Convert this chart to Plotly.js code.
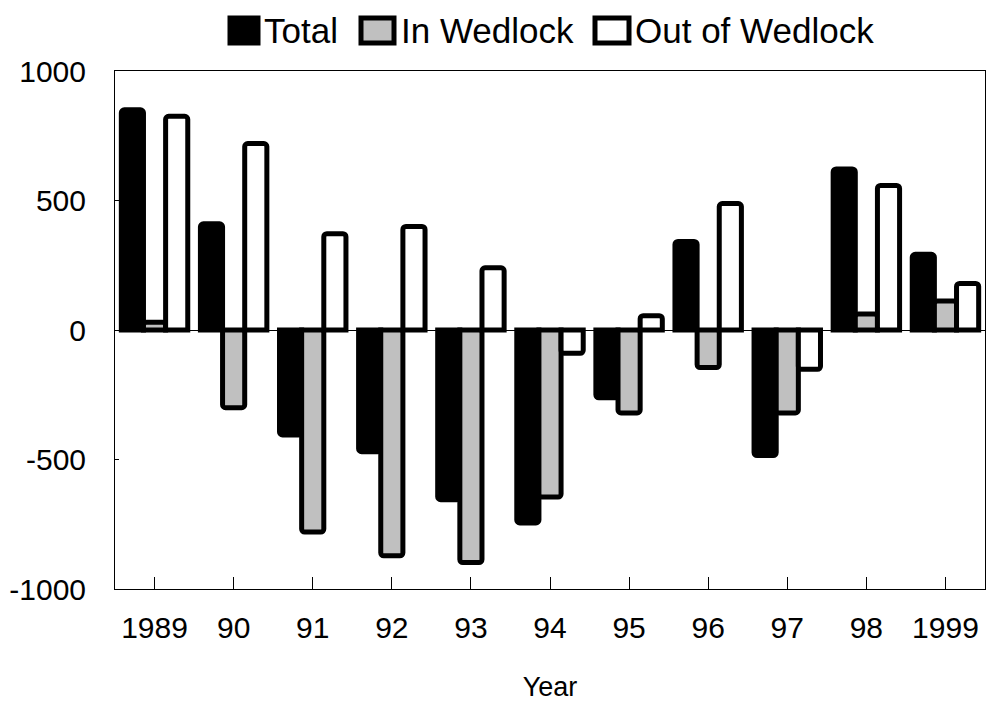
<!DOCTYPE html>
<html>
<head>
<meta charset="utf-8">
<script src="https://cdn.plot.ly/plotly-3.0.1.min.js"></script>
<style>html,body{margin:0;padding:0;background:#fff;}#chart{width:987px;height:702px;}</style>
</head>
<body>
<div id="chart"></div>
<script>
const years = ['1989','90','91','92','93','94','95','96','97','98','1999'];
const seriesNames = ['Total', 'In Wedlock', 'Out of Wedlock'];
const total      = [850, 410, -405, -470, -655, -745, -262, 342, -485, 622, 292];
const inWedlock  = [30, -300, -780, -872, -898, -645, -320, -145, -320, 62, 112];
const outWedlock = [825, 720, 372, 400, 240, -90, 55, 488, -152, 558, 180];
const yTicks = [-1000, -500, 0, 500, 1000];

const fills = ['#000000', '#c0c0c0', '#ffffff'];
const seriesData = [total, inWedlock, outWedlock];

const traces = seriesData.map((vals, i) => ({
  type: 'bar',
  x: years,
  y: vals,
  name: seriesNames[i],
  marker: {color: fills[i], line: {color: '#000', width: 5}, cornerradius: 3},
  hoverinfo: 'x+y+name'
}));

// plot area in pixels
const L = 115, R = 985, T = 71, B = 589, W = 987, H = 702;
const px = x => (x - L) / (R - L);
const py = y => (B - y) / (B - T);

const shapes = [];
const annotations = [];
const legendBoxes = [[230, 258], [361, 394], [595, 629]];
const legendText = [262, 399, 633];
legendBoxes.forEach((b, i) => {
  shapes.push({
    type: 'rect', xref: 'paper', yref: 'paper',
    x0: px(b[0]), x1: px(b[1]), y0: py(43), y1: py(18),
    fillcolor: fills[i], line: {color: '#000', width: 5}
  });
  annotations.push({
    xref: 'paper', yref: 'paper', x: px(legendText[i]), y: py(31),
    xanchor: 'left', yanchor: 'middle', showarrow: false,
    text: seriesNames[i],
    font: {family: 'Liberation Sans, Arial, sans-serif', size: 35, color: '#000'}
  });
});

const layout = {
  width: W, height: H,
  margin: {l: L, r: W - R, t: T, b: H - B, pad: 0},
  paper_bgcolor: '#fff', plot_bgcolor: '#fff',
  barmode: 'group', bargap: 0.16, bargroupgap: 0,
  showlegend: false,
  font: {family: 'Liberation Sans, Arial, sans-serif', color: '#000', size: 30},
  xaxis: {
    type: 'category', showline: true, mirror: true, linecolor: '#000', linewidth: 1,
    ticks: 'inside', ticklen: 12, tickcolor: '#000', tickwidth: 1,
    tickfont: {size: 30}, ticklabelstandoff: 12,
    title: {text: 'Year', font: {size: 27}, standoff: 35},
    showgrid: false, zeroline: false, fixedrange: true
  },
  yaxis: {
    range: [-1000, 1000], tickvals: yTicks, ticktext: yTicks.map(String),
    showline: true, mirror: true, linecolor: '#000', linewidth: 1,
    ticks: 'inside', ticklen: 4, tickcolor: '#000', tickwidth: 1,
    tickfont: {size: 30}, ticklabelstandoff: 22,
    showgrid: false, zeroline: true, zerolinecolor: '#000', zerolinewidth: 1,
    fixedrange: true
  },
  shapes: shapes,
  annotations: annotations
};

Plotly.newPlot('chart', traces, layout, {displayModeBar: false, staticPlot: true});
</script>
</body>
</html>
